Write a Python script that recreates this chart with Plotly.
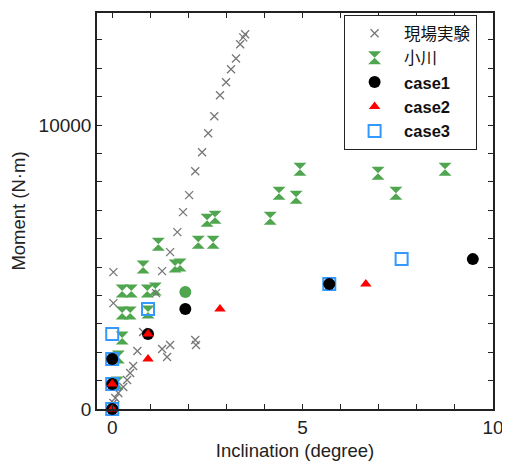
import plotly.graph_objects as go

# 現場実験 (field experiment)
field_x = [3.49, 3.44, 3.36, 3.25, 3.12, 2.99, 2.83, 2.68, 2.52, 2.36, 2.18, 2.02, 1.86, 1.71,
           1.52, 1.31, 1.15, 0.81, 0.66, 0.55, 0.47, 0.39, 0.29, 0.16, 0.08, 0.03, 0.03, 0.03,
           1.31, 1.44, 1.52, 2.18, 2.20]
field_y = [13200, 13090, 12850, 12350, 11970, 11510, 11050, 10310, 9715, 9046, 8378, 7533, 6934, 6230,
           5526, 4858, 4083, 2710, 2042, 1514, 1267, 1021, 774, 563, 387, 211, 4822, 3731,
           2112, 1830, 2253, 2429, 2253]

# 小川
ogawa_x = [4.93, 4.38, 4.83, 4.15, 6.98, 7.45, 8.74, 2.70, 2.49, 2.26, 2.65, 1.21, 1.78, 1.65,
           0.81, 0.26, 0.50, 0.92, 1.13, 0.26, 0.47, 0.94, 0.26, 0.16, 0.13]
ogawa_y = [8448, 7603, 7462, 6723, 8307, 7603, 8448, 6758, 6653, 5878, 5878, 5808, 5069, 5034,
           4998, 4154, 4154, 4154, 4224, 3379, 3379, 3414, 2499, 1830, 915]
ogawa_extra_x = [1.92]
ogawa_extra_y = [4118]

case1_x = [0, 0, 0, 0.94, 1.92, 5.70, 9.47]
case1_y = [0, 880, 1760, 2640, 3520, 4400, 5280]
case2_x = [0, 0, 0.94, 0.94, 2.83, 6.66]
case2_y = [0, 880, 1760, 2640, 3520, 4400]
case3_x = [0, 0, 0, 0, 0.94, 5.70, 7.60]
case3_y = [0, 880, 1760, 2640, 3520, 4400, 5280]

green = "#4fa64f"
font_family = "Arial, Liberation Sans, Noto Sans CJK JP, sans-serif"

fig = go.Figure()
fig.add_trace(go.Scatter(x=ogawa_x, y=ogawa_y, mode="markers", name="小川", legendrank=2,
                         marker=dict(symbol="hourglass", size=13, color=green), cliponaxis=False))
fig.add_trace(go.Scatter(x=ogawa_extra_x, y=ogawa_extra_y, mode="markers", showlegend=False,
                         marker=dict(symbol="circle", size=12, color=green), cliponaxis=False))
fig.add_trace(go.Scatter(x=field_x, y=field_y, mode="markers", name="現場実験", legendrank=1,
                         marker=dict(symbol="x-thin", size=8, color="#777777",
                                     line=dict(color="#777777", width=1.3)), cliponaxis=False))
fig.add_trace(go.Scatter(x=case3_x, y=case3_y, mode="markers", name="<b>case3</b>", legendrank=5,
                         marker=dict(symbol="square-open", size=12, color="#3399ff",
                                     line=dict(color="#3399ff", width=2)), cliponaxis=False))
fig.add_trace(go.Scatter(x=case1_x, y=case1_y, mode="markers", name="<b>case1</b>", legendrank=3,
                         marker=dict(symbol="circle", size=12, color="black"), cliponaxis=False))
fig.add_trace(go.Scatter(x=case2_x, y=case2_y, mode="markers", name="<b>case2</b>", legendrank=4,
                         marker=dict(symbol="triangle-up", size=10, color="red"), cliponaxis=False))

axis_common = dict(showline=True, linecolor="#222222", linewidth=1.5, mirror="ticks",
                   ticks="inside", ticklen=5, tickcolor="#222222", showgrid=False, zeroline=False,
                   automargin=False, tickfont=dict(size=19, color="#222222"))

fig.update_xaxes(range=[-0.4, 10], tickvals=[0, 5, 10], ticktext=["0", "5", "10"],
                 minor=dict(dtick=1, tick0=0, ticks="inside", ticklen=5, tickcolor="#222222"),
                 title=dict(text="Inclination (degree)", font=dict(size=18.5, color="#222222"), standoff=8),
                 **axis_common)
fig.update_yaxes(range=[0, 13950], tickvals=[0, 10000], ticktext=["0", "10000"],
                 minor=dict(dtick=1000, tick0=0, ticks="inside", ticklen=5, tickcolor="#222222"),
                 title=dict(text="Moment (N·m)", font=dict(size=18.5, color="#222222"), standoff=13),
                 **axis_common)

# page body has an 8px margin, so the figure is shifted; size compensates
fig.update_layout(
    width=502, height=456,
    margin=dict(l=89, r=17, t=5, b=55, autoexpand=False),
    plot_bgcolor="white", paper_bgcolor="white",
    font=dict(family=font_family, size=16.5, color="#111111"),
    legend=dict(x=0.624, y=0.995, xanchor="left", yanchor="top", bgcolor="white",
                bordercolor="#222222", borderwidth=1, font=dict(size=16.5), itemwidth=49,
                tracegroupgap=0),
)

fig.write_html("out.html")
